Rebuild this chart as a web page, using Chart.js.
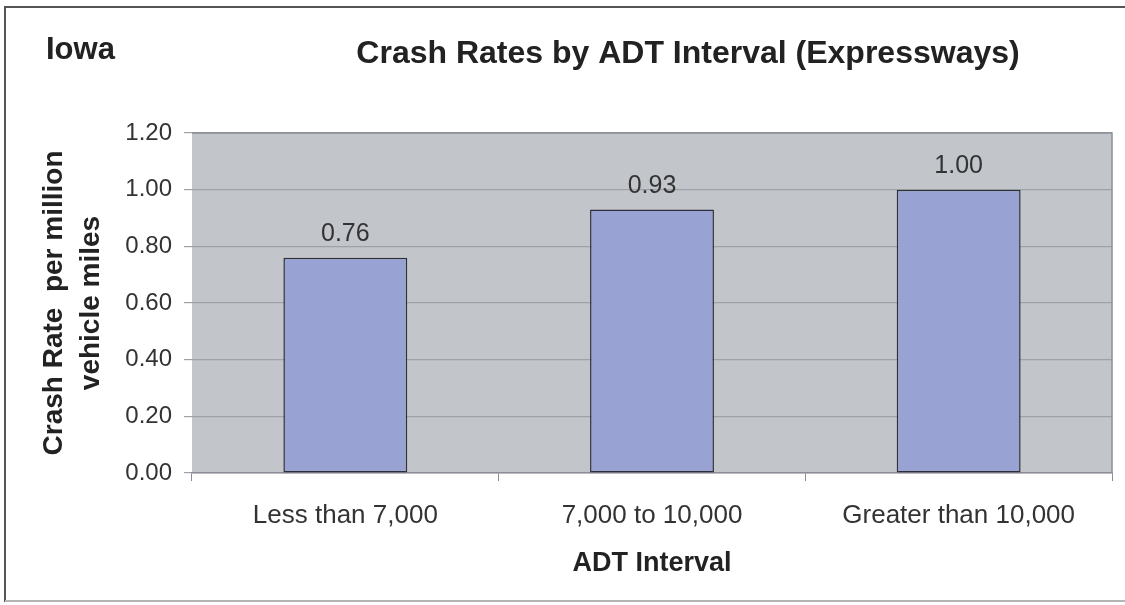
<!DOCTYPE html>
<html>
<head>
<meta charset="utf-8">
<script src="https://cdn.jsdelivr.net/npm/chart.js@4"></script>
<style>
  html, body { margin: 0; padding: 0; background: #ffffff; }
  canvas { display: block; }
</style>
</head>
<body>
<canvas id="c" width="1125" height="605"></canvas>
<script>
const categories = ['Less than 7,000', '7,000 to 10,000', 'Greater than 10,000'];
const crashRates = [0.76, 0.93, 1.00];
const yMin = 0;
const yMax = 1.2;
const yStep = 0.2;
const cornerLabel = 'Iowa';
const chartTitle = 'Crash Rates by ADT Interval (Expressways)';
const yTitle = ['Crash Rate  per million', 'vehicle miles'];
const xTitle = 'ADT Interval';

const FONT = '"Liberation Sans", Arial, Helvetica, sans-serif';

const decor = {
  id: 'decor',
  beforeDraw(chart) {
    const ctx = chart.ctx;
    const a = chart.chartArea;
    ctx.save();
    ctx.fillStyle = '#ffffff';
    ctx.fillRect(0, 0, chart.width, chart.height);
    // outer frame
    ctx.strokeStyle = '#555555';
    ctx.lineWidth = 2;
    ctx.beginPath();
    ctx.moveTo(5, 602);
    ctx.lineTo(5, 7);
    ctx.lineTo(chart.width + 5, 7);
    ctx.stroke();
    ctx.strokeStyle = '#b5b5b5';
    ctx.beginPath();
    ctx.moveTo(5, 601);
    ctx.lineTo(chart.width + 5, 601);
    ctx.stroke();
    // plot background
    ctx.fillStyle = '#c2c5ca';
    ctx.fillRect(a.left, a.top, a.right - a.left, a.bottom - a.top);
    ctx.restore();
  },
  afterDraw(chart) {
    const ctx = chart.ctx;
    const a = chart.chartArea;
    ctx.save();
    // plot border (top and right)
    ctx.strokeStyle = '#8b8e96';
    ctx.lineWidth = 1.5;
    ctx.beginPath();
    ctx.moveTo(a.left, a.top);
    ctx.lineTo(a.right, a.top);
    ctx.lineTo(a.right, a.bottom);
    ctx.stroke();
    // value labels
    const meta = chart.getDatasetMeta(0);
    ctx.fillStyle = '#333333';
    ctx.font = '25px ' + FONT;
    ctx.textAlign = 'center';
    ctx.textBaseline = 'alphabetic';
    meta.data.forEach((bar, i) => {
      ctx.fillText(crashRates[i].toFixed(2), bar.x, bar.y - 17);
    });
    // titles
    ctx.fillStyle = '#222222';
    ctx.font = 'bold 31px ' + FONT;
    ctx.textAlign = 'left';
    ctx.fillText(cornerLabel, 46, 59);
    ctx.font = 'bold 32px ' + FONT;
    ctx.textAlign = 'center';
    ctx.fillText(chartTitle, 688, 63);
    ctx.restore();
  }
};

new Chart(document.getElementById('c'), {
  type: 'bar',
  data: {
    labels: categories,
    datasets: [{
      data: crashRates,
      backgroundColor: '#98a3d3',
      borderColor: '#2e3038',
      borderWidth: 1.5,
      borderSkipped: false,
      barPercentage: 0.404,
      categoryPercentage: 1.0
    }]
  },
  options: {
    responsive: false,
    animation: false,
    devicePixelRatio: 1,
    layout: { padding: { top: 133, right: 13, bottom: 0, left: 0 } },
    plugins: {
      legend: { display: false },
      tooltip: { enabled: false },
      title: { display: false }
    },
    scales: {
      x: {
        afterFit(scale) { scale.height = 132; },
        grid: {
          drawOnChartArea: false,
          drawTicks: true,
          tickLength: 8,
          color: '#8b8e96',
          offset: true
        },
        border: { display: true, color: '#8b8e96', width: 1.5 },
        ticks: {
          color: '#333333',
          font: { family: FONT, size: 26 },
          padding: 19,
          maxRotation: 0,
          autoSkip: false
        },
        title: {
          display: true,
          text: xTitle,
          color: '#222222',
          font: { family: FONT, size: 27, weight: 'bold' },
          padding: { top: 0, bottom: 25 }
        }
      },
      y: {
        min: yMin,
        max: yMax,
        afterFit(scale) { scale.width = 192; },
        grid: {
          color: '#9ea2a8',
          lineWidth: 1.2,
          drawTicks: true,
          tickLength: 8
        },
        border: { display: false },
        ticks: {
          stepSize: yStep,
          color: '#333333',
          font: { family: FONT, size: 24 },
          padding: 12,
          callback: (v) => Number(v).toFixed(2)
        },
        title: {
          display: true,
          text: yTitle,
          color: '#222222',
          font: { family: FONT, size: 28, weight: 'bold', lineHeight: 1.35 },
          padding: { top: 35, bottom: 0 }
        }
      }
    }
  },
  plugins: [decor]
});
</script>
</body>
</html>
